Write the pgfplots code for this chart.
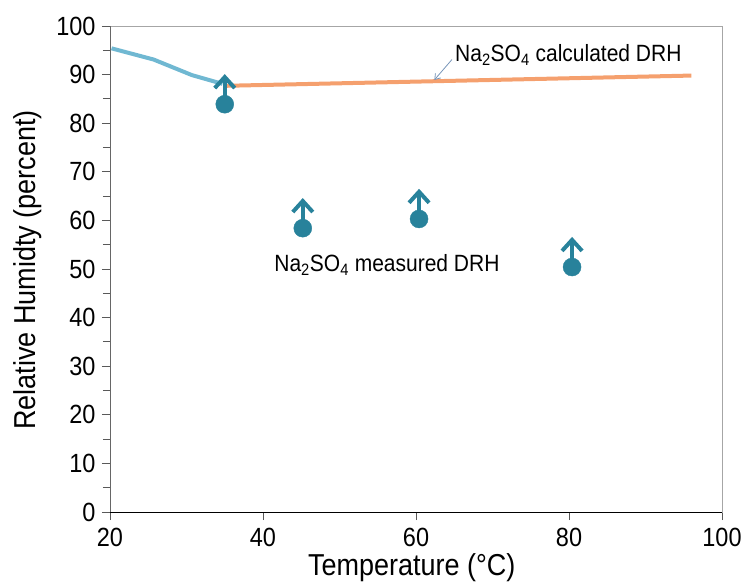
\documentclass[border=0pt]{standalone}
\usepackage{fontspec}
\setmainfont{Liberation Sans}
\usepackage{graphicx}
\usepackage{pgfplots}
\pgfplotsset{compat=1.18}
\usetikzlibrary{arrows.meta}
\definecolor{teal1}{RGB}{40,130,155}
\definecolor{lblue}{RGB}{112,184,210}
\definecolor{orng}{RGB}{245,160,110}
\definecolor{annc}{RGB}{120,150,185}
\newcommand{\vs}[1]{\scalebox{1}[1.12]{#1}}
\begin{document}
\begin{tikzpicture}
\useasboundingbox (-110pt,-71pt) rectangle (633pt,512pt);
\begin{axis}[
  at={(0pt,0pt)}, anchor=south west,
  scale only axis, width=612pt, height=486pt,
  xmin=20, xmax=100, ymin=0, ymax=100,
  xtick={20,40,60,80,100}, ytick={0,10,...,100},
  minor y tick num=1,
  xtick pos=left, ytick pos=left,
  tick align=outside,
  major tick length=8pt, minor tick length=7pt,
  tick style={gray!70!black, line width=0.8pt},
  axis line style={gray!70, line width=0.8pt},
  /pgf/number format/assume math mode=true,
  tick label style={font=\fontsize{23.5}{28}\selectfont},
  xticklabel={\vs{\pgfmathprintnumber{\tick}}},
  yticklabel={\vs{\pgfmathprintnumber{\tick}}},
  xticklabel style={yshift=-7pt, inner sep=1pt},
  yticklabel style={xshift=-3pt},
  xlabel={\vs{Temperature (°C)}},
  ylabel={\vs{Relative Humidty (percent)}},
  label style={font=\fontsize{27}{32}\selectfont},
  xlabel style={at={(axis description cs:0.493,-0.115)}, anchor=center, inner sep=0pt},
  ylabel style={at={(axis description cs:-0.134,0.498)}, anchor=center},
  clip=false,
]
\draw[black, line width=0.9pt] (rel axis cs:0,0) -- (rel axis cs:1,0);
\draw[gray!80!black, line width=0.9pt] (rel axis cs:0,0) -- (rel axis cs:0,1);
% calculated DRH, low-temperature branch
\addplot[lblue, line width=4pt, no marks] coordinates {
  (20.2,95.4) (25.7,93.1) (30.7,89.9) (34.7,88.1)
};
% calculated DRH, high-temperature branch
\addplot[orng, line width=4pt, no marks] coordinates {
  (35.3,87.7) (96.0,89.8)
};
% arrows above measured points
\addplot[teal1, line width=4pt, -{Straight Barb[length=11pt,width=20pt]},
  quiver={u=0, v=6.2}, no marks] coordinates {
  (35.0,83.9) (45.2,58.4) (60.4,60.3) (80.4,50.4)
};
% measured DRH
\addplot[only marks, mark=*, mark size=9pt, teal1, mark options={draw=teal1, fill=teal1}] coordinates {
  (35.0,83.9) (45.2,58.4) (60.4,60.3) (80.4,50.4)
};
\node[anchor=west, font=\fontsize{21}{25}\selectfont, inner sep=0pt] at (axis cs:65.1,94.0) {\vs{Na\textsubscript{2}SO\textsubscript{4} calculated DRH}};
\draw[annc, line width=0.8pt, -{Straight Barb[length=5pt,width=7pt]}] (axis cs:64.7,93.1) -- (axis cs:62.4,88.9);
\node[font=\fontsize{21}{25}\selectfont, inner sep=0pt] at (axis cs:56.2,50.8) {\vs{Na\textsubscript{2}SO\textsubscript{4} measured DRH}};
\end{axis}
\end{tikzpicture}
\end{document}
